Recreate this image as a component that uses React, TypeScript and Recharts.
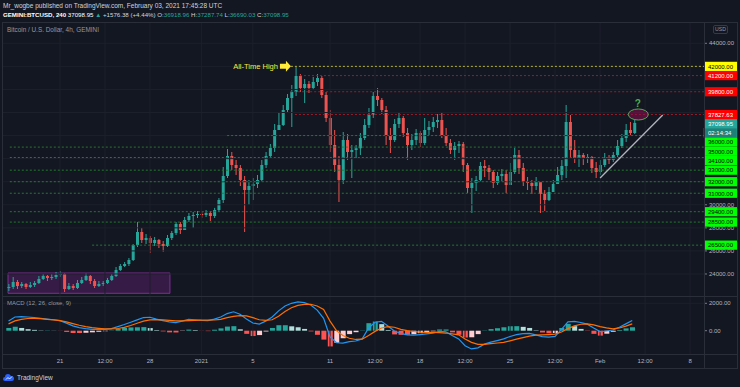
import React from 'react';
import { ComposedChart, Bar, Line, XAxis, YAxis, ReferenceLine, ReferenceArea, ReferenceDot, Cell } from 'recharts';

// ---------------- data ----------------
// candles: 8h steps, day offsets relative to 21 Dec 2020 00:00 UTC
const candleStartDay = -4;
const candleStepDay = 1 / 3;
const firstOpen = 22784;
const candleClose = [
  22871, 23305, 22958, 23131, 22871, 23045, 23218, 23565, 23825, 23653, 23740, 23912, 23998, 22697, 22958, 22784,
  23218, 23478, 23825, 23391, 22958, 23131, 23218, 23478, 23825, 24345, 24692, 24865, 25212, 26513, 27640, 26946,
  27119, 26686, 26946, 26599, 26426, 27119, 27553, 28333, 27813, 28680, 29027, 29114, 29200, 29114, 29287, 29027,
  29547, 30414, 32495, 34229, 33449, 33188, 32148, 31281, 31628, 31801, 32148, 33449, 34229, 34922, 36483, 36916,
  38217, 39257, 39778, 41165, 40124, 40471, 40124, 40645, 40991, 39518, 37523, 35183, 33449, 32148, 35616, 34576,
  34749, 34900, 35789, 36916, 37783, 39431, 39084, 38217, 36050, 35616, 37003, 37523, 36223, 35183, 35616, 36223,
  35356, 36483, 36743, 37177, 37350, 36050, 35356, 34749, 35096, 35269, 33449, 31454, 31888, 32148, 33362, 33188,
  32842, 31888, 32495, 32668, 31715, 32842, 34316, 33188, 31975, 31888, 31628, 31975, 30934, 30414, 31108, 31801,
  32582, 33362, 37177, 34749, 34055, 34316, 34055, 34142, 33188, 32842, 33449, 34055, 33882, 34316, 35096, 35789,
  36483, 36223, 37098.95,
];
const candleHigh = [
  23131, 23740, 23478, 23305, 23218, 23305, 23391, 23825, 23998, 23912, 23998, 24172, 24258, 24085, 23218, 23131,
  23478, 23740, 24085, 23912, 23565, 23391, 23391, 23653, 23998, 24605, 24865, 25039, 25385, 26599, 28507, 27986,
  27466, 27293, 27206, 27033, 26859, 27380, 27726, 28507, 28507, 28940, 29287, 29374, 29460, 29374, 29547, 29460,
  29728, 30587, 33275, 34836, 34576, 33882, 33449, 32495, 32148, 32321, 32582, 33882, 34576, 35269, 37003, 37957,
  38651, 39604, 40384, 41945, 41338, 40905, 40731, 41078, 41338, 41165, 39778, 38217, 36483, 34229, 36310, 36136,
  35183, 35183, 36223, 37437, 38390, 39778, 40124, 39257, 38564, 36656, 37437, 38044, 37697, 36656, 36136, 36570,
  36396, 37523, 37263, 37610, 37870, 37957, 36656, 35703, 35443, 35529, 35443, 33622, 32321, 32495, 33709, 33882,
  33449, 33015, 32842, 33102, 33015, 33622, 34922, 34749, 33622, 32408, 32148, 32408, 31975, 31281, 31541, 32148,
  33275, 33882, 38651, 37783, 35616, 34749, 34489, 34402, 34229, 33709, 33882, 34489, 34316, 34576, 35616, 36136,
  37003, 37177, 37437,
];
const candleLow = [
  22524, 22697, 22697, 22784, 22697, 22784, 22871, 23131, 23478, 23391, 23478, 23565, 23740, 22438, 22611, 22611,
  22697, 23131, 23391, 23131, 22784, 22871, 22958, 23131, 23391, 23740, 24258, 24605, 24692, 25125, 26339, 26686,
  26599, 25819, 26426, 26252, 25906, 26339, 26946, 27380, 27466, 27813, 28507, 27986, 28853, 28853, 28940, 28593,
  28853, 29374, 30154, 32321, 33015, 32582, 31628, 27640, 29981, 30414, 31454, 31975, 33188, 34055, 34576, 36483,
  36830, 37957, 36743, 39431, 39778, 38824, 39691, 39951, 40298, 39257, 37177, 34576, 32842, 30241, 31801, 33882,
  32321, 34055, 34316, 35616, 36656, 37523, 38564, 37870, 35183, 34489, 35443, 36656, 35876, 33882, 34749, 35183,
  35009, 35183, 36050, 36310, 36656, 35789, 35096, 34402, 33882, 34489, 32842, 31021, 29287, 31194, 31975, 32408,
  32148, 31454, 31715, 31975, 31021, 32148, 32668, 32668, 31628, 31281, 30934, 31281, 29287, 29460, 30327, 31108,
  31888, 32148, 32321, 34142, 33622, 33275, 33449, 33622, 32755, 32321, 32582, 33275, 33535, 33709, 34142, 34922,
  35443, 35963, 36136,
];

// MACD (12, 26, close, 9): 12h samples
const macdStartDay = -4;
const macdStepDay = 0.5;
const macdValues = [
  700, 1000, 1030, 1000, 960, 900, 850, 800, 730, 550, 350, 230, 150, 100, 90, 90,
  150, 300, 450, 620, 790, 960, 980, 850, 740, 640, 590, 700, 820, 800, 760, 740,
  850, 1000, 1250, 1380, 1200, 850, 560, 480, 700, 1000, 1450, 1800, 2000, 2100, 2050, 1880,
  1500, 900, -450, -880, -900, -800, -750, -600, 200, 620, 680, 350, -20, -200, -300, -320,
  -280, -230, -180, -50, -80, -350, -600, -1100, -1330, -1250, -980, -830, -720, -600, -420, -290,
  -220, -200, -300, -430, -470, -420, 100, 650, 680, 600, 480, 200, -60, -20, 50, 250,
  500, 750,
];
const signalValues = [
  500, 720, 830, 890, 900, 880, 830, 790, 740, 640, 520, 400, 300, 220, 170, 130,
  130, 160, 240, 380, 540, 700, 790, 810, 790, 760, 720, 720, 740, 760, 770, 770,
  780, 830, 950, 1050, 1100, 1080, 950, 800, 760, 800, 1050, 1400, 1680, 1850, 1920, 1930,
  1800, 1550, 700, 0, -350, -550, -640, -620, -350, -50, 200, 300, 250, 100, 0, -60,
  -100, -120, -130, -140, -170, -230, -300, -600, -850, -1000, -1000, -950, -900, -850, -740, -620,
  -500, -400, -330, -300, -280, -250, -100, 150, 350, 470, 500, 430, 300, 200, 130, 200,
  330, 500,
];

const timeTickDays = [0, 3.5, 7, 11, 15, 21, 24.5, 28, 31.5, 35, 38.5, 42, 45.5, 49];
const timeTickLabels = ['21', '12:00', '28', '2021', '5', '11', '12:00', '18', '12:00', '25', '12:00', 'Feb', '12:00', '8'];
const priceGridTicks = [24000, 26000, 28000, 30000, 32000, 34000, 36000, 38000, 40000, 42000, 44000];
const macdTicks = [0, 2000];

const levelPrices = [42000, 41200, 39800, 37827.63, 36000, 35000, 34100, 33000, 32000, 31000, 29400, 28500, 26500];
const levelKinds = ['ath', 'res', 'res', 'res', 'sup', 'sup', 'sup', 'sup', 'sup', 'sup', 'sup', 'sup', 'sup'];
const levelStartDays = [17.96, 18.66, 17.9, 18.27, 13.0, -3.9, -3.9, -3.9, -3.9, -3.9, -3.9, -3.9, 2.5];

const lastPrice = 37098.95;
const countdownText = '02:14:34';

const rangeBox = { d1: -4.04, d2: 8.55, p1: 22325, p2: 24085 };
const trendFrom = { d: 42.0, p: 32320 };
const trendTo = { d: 46.87, p: 37780 };
const targetMark = { d: 44.97, p: 37827.63 };
const athMark = { d: 17.96, p: 42000 };

const headerLine1 = 'Mr_wogbe published on TradingView.com, February 03, 2021 17:45:28 UTC';
const symbolText = 'GEMINI:BTCUSD, 240';
const chartTitle = 'Bitcoin / U.S. Dollar, 4h, GEMINI';
const macdTitle = 'MACD (12, 26, close, 9)';

// ---------------- layout ----------------
const W = 740;
const PLOT_LEFT = 3;
const AXIS_W = 36;
const MAIN_TOP = 22;
const MAIN_BOTTOM = 296;
const MACD_H = 72;
const X_DOMAIN: [number, number] = [-4.43, 50.08];
const P_MIN = 22091;
const P_MAX = 45847;
const M_DOMAIN: [number, number] = [-1701, 2533];
const LABEL_STEP = 9.2;
const FONT = '"Liberation Sans", Arial, sans-serif';
const BG = '#131722';
const GRID = '#1c202b';
const UP = '#26a69a';
const DOWN = '#ef5350';

const levelColor: Record<string, string> = { ath: '#b5b032', res: '#9b1c28', sup: '#237a2c' };
const boxStyle: Record<string, { bg: string; fg: string }> = {
  ath: { bg: '#ffff00', fg: '#000000' },
  res: { bg: '#ff0000', fg: '#ffffff' },
  last: { bg: '#26a69a', fg: '#ffffff' },
  timer: { bg: '#1e8077', fg: '#ffffff' },
  sup: { bg: '#00ff00', fg: '#000000' },
};

// ---------------- derived ----------------
const candles = candleClose.map((c, i) => {
  const o = i === 0 ? firstOpen : candleClose[i - 1];
  const h = Math.max(candleHigh[i], o, c);
  const l = Math.min(candleLow[i], o, c);
  return { t: candleStartDay + i * candleStepDay, o, h, l, c, range: [l, h] };
});

const macdData = macdValues.map((m, i) => ({
  t: macdStartDay + i * macdStepDay,
  macd: m,
  signal: signalValues[i],
  hist: m - signalValues[i],
}));
const histColor = (i: number) => {
  const h = macdData[i].hist;
  const prev = i > 0 ? macdData[i - 1].hist : h;
  if (h >= 0) return h >= prev ? '#26a69a' : '#b2dfdb';
  return h <= prev ? '#ff5252' : '#ffcdd2';
};

const natY = (p: number) => MAIN_TOP + ((P_MAX - p) / (P_MAX - P_MIN)) * (MAIN_BOTTOM - MAIN_TOP);
type AxisLabel = { p: number; kind: string; text: string; y: number };
const axisLabels: AxisLabel[] = levelPrices.map((p, i) => ({ p, kind: levelKinds[i], text: p.toFixed(2), y: 0 }));
axisLabels.push({ p: lastPrice, kind: 'last', text: lastPrice.toFixed(2), y: 0 });
axisLabels.sort((a, b) => b.p - a.p);
{
  const idx = axisLabels.findIndex((a) => a.kind === 'last');
  axisLabels.splice(idx + 1, 0, { p: lastPrice, kind: 'timer', text: countdownText, y: 0 });
  let prev = -Infinity;
  axisLabels.forEach((a) => {
    a.y = Math.max(natY(a.p), prev + LABEL_STEP);
    prev = a.y;
  });
}
const labelPriceSet = new Set(axisLabels.map((a) => a.p));
// plain scale ticks hidden when a coloured label box covers them
const visibleGridTicks = priceGridTicks.filter(
  (t) => !labelPriceSet.has(t) && axisLabels.every((a) => Math.abs(a.y - natY(t)) > 5)
);
const priceTicks = [...visibleGridTicks, ...levelPrices, lastPrice];

// ---------------- shapes ----------------
const CandleShape = (props: any) => {
  const { x, y, width, height } = props;
  const d = props.payload ?? props;
  if (d == null || d.h == null) return null;
  const top = Math.min(y, y + height);
  const bot = Math.max(y, y + height);
  const span = d.h - d.l || 1;
  const ppu = (bot - top) / span;
  const yo = top + (d.h - d.o) * ppu;
  const yc = top + (d.h - d.c) * ppu;
  const col = d.c >= d.o ? UP : DOWN;
  const cx = x + width / 2;
  const bt = Math.min(yo, yc);
  const bh = Math.max(1, Math.abs(yc - yo));
  return (
    <g>
      <line x1={cx} x2={cx} y1={top} y2={bot} stroke={col} strokeWidth={1} />
      <rect x={cx - 1.5} y={bt} width={3} height={bh} fill={col} />
    </g>
  );
};

const PriceTick = (props: any) => {
  const { x, y, payload } = props;
  const v = payload.value;
  const entries = axisLabels.filter((a) => a.p === v);
  const axisX = x - 5;
  if (entries.length === 0) {
    return (
      <g>
        <line x1={axisX} x2={axisX + 3} y1={y} y2={y} stroke="#787b86" />
        <text x={axisX + 5} y={y} dominantBaseline="central" fill="#b2b5be" fontSize={6} fontFamily={FONT}>
          {v.toFixed(2)}
        </text>
      </g>
    );
  }
  return (
    <g>
      {entries.map((e, i) => {
        const yy = y + (e.y - natY(v));
        const st = boxStyle[e.kind];
        return (
          <g key={i}>
            <rect x={axisX} y={yy - 4.6} width={33} height={9.2} fill={st.bg} stroke={e.kind === 'timer' ? '#26a69a' : 'none'} strokeWidth={0.6} />
            <text x={axisX + 4} y={yy + 0.3} dominantBaseline="central" fill={st.fg} fontSize={6} fontFamily={FONT}>
              {e.text}
            </text>
          </g>
        );
      })}
    </g>
  );
};

const MacdTick = (props: any) => {
  const { x, y, payload } = props;
  const axisX = x - 5;
  return (
    <g>
      <line x1={axisX} x2={axisX + 3} y1={y} y2={y} stroke="#787b86" />
      <text x={axisX + 5} y={y} dominantBaseline="central" fill="#b2b5be" fontSize={6} fontFamily={FONT}>
        {Number(payload.value).toFixed(2)}
      </text>
    </g>
  );
};

const TimeTick = (props: any) => {
  const { x, y, payload } = props;
  const i = timeTickDays.indexOf(payload.value);
  return (
    <text x={x} y={y + 7} textAnchor="middle" dominantBaseline="central" fill="#b2b5be" fontSize={6} fontFamily={FONT}>
      {i >= 0 ? timeTickLabels[i] : ''}
    </text>
  );
};

const AthShape = (p: any) => {
  const { cx, cy } = p;
  const pts = [
    [cx - 11, cy - 2.5], [cx - 5, cy - 2.5], [cx - 5, cy - 5.5], [cx, cy],
    [cx - 5, cy + 5.5], [cx - 5, cy + 2.5], [cx - 11, cy + 2.5],
  ].map((q) => q.join(',')).join(' ');
  return (
    <g>
      <polygon points={pts} fill="#ffeb3b" />
      <text x={cx - 13} y={cy} textAnchor="end" dominantBaseline="central" fill="#ffeb3b" fontSize={7.5} fontFamily={FONT}>
        All-Time High
      </text>
    </g>
  );
};

const TargetShape = (p: any) => (
  <g>
    <ellipse cx={p.cx} cy={p.cy} rx={10} ry={5.5} fill="#880e4f" fillOpacity={0.55} stroke="#4caf50" strokeWidth={1} />
    <text x={p.cx - 0.5} y={p.cy - 11} textAnchor="middle" dominantBaseline="central" fill="#4caf50" fontSize={10} fontWeight="bold" fontFamily={FONT}>
      ?
    </text>
  </g>
);

// ---------------- component ----------------
export default function App() {
  const hLine = (top: number, left = 2, width = 736, color = '#2a2e39') => (
    <div style={{ position: 'absolute', left, top, width, height: 1, background: color }} />
  );
  const vLine = (left: number, top = 22, height = 346, color = '#2a2e39') => (
    <div style={{ position: 'absolute', left, top, width: 1, height, background: color }} />
  );
  return (
    <div style={{ position: 'absolute', left: 0, top: 0, width: W, height: 387, background: BG, overflow: 'hidden', fontFamily: FONT }}>
      <div style={{ position: 'absolute', left: 3, top: 2, fontSize: 6.5, lineHeight: '8px', color: '#d1d4dc', whiteSpace: 'nowrap' }}>
        {headerLine1}
      </div>
      <div style={{ position: 'absolute', left: 3, top: 10.7, fontSize: 6.15, lineHeight: '8px', color: '#d1d4dc', whiteSpace: 'nowrap' }}>
        <span style={{ fontWeight: 'bold', color: '#ffffff' }}>{symbolText}</span>
        <span style={{ color: '#ffffff' }}> {lastPrice.toFixed(2)} </span>
        <span style={{ color: UP }}>▲</span>
        <span> +1576.38 (+4.44%) O:</span>
        <span style={{ color: UP }}>36918.96</span>
        <span> H:</span>
        <span style={{ color: UP }}>37287.74</span>
        <span> L:</span>
        <span style={{ color: UP }}>36690.03</span>
        <span> C:</span>
        <span style={{ color: UP }}>{lastPrice.toFixed(2)}</span>
      </div>

      <div style={{ position: 'absolute', left: 0, top: 0 }}>
        <ComposedChart width={W} height={MAIN_BOTTOM} data={candles} margin={{ top: MAIN_TOP, right: 0, bottom: 0, left: PLOT_LEFT }}>
          <XAxis type="number" dataKey="t" domain={X_DOMAIN} hide allowDataOverflow ticks={timeTickDays} />
          <YAxis
            orientation="right"
            type="number"
            domain={[P_MIN, P_MAX]}
            width={AXIS_W}
            ticks={priceTicks}
            interval={0}
            tick={PriceTick}
            axisLine={false}
            tickLine={false}
            tickSize={3}
            tickMargin={2}
            allowDataOverflow
          />
          {timeTickDays.map((d) => (
            <ReferenceLine key={'vx' + d} x={d} stroke={GRID} strokeWidth={1} />
          ))}
          {priceGridTicks.map((p) => (
            <ReferenceLine key={'hy' + p} y={p} stroke={GRID} strokeWidth={1} />
          ))}
          <ReferenceArea
            x1={rangeBox.d1}
            x2={rangeBox.d2}
            y1={rangeBox.p1}
            y2={rangeBox.p2}
            fill="#9c27b0"
            fillOpacity={0.25}
            stroke="#8e2fa3"
            strokeOpacity={0.9}
          />
          {levelPrices.map((p, i) => (
            <ReferenceLine
              key={'lv' + i}
              segment={[{ x: levelStartDays[i], y: p }, { x: X_DOMAIN[1], y: p }]}
              stroke={levelColor[levelKinds[i]]}
              strokeDasharray="2 2"
              strokeWidth={1}
            />
          ))}
          <Bar dataKey="range" shape={CandleShape} barSize={3} isAnimationActive={false} />
          <ReferenceLine
            segment={[{ x: trendFrom.d, y: trendFrom.p }, { x: trendTo.d, y: trendTo.p }]}
            stroke="#b2b5be"
            strokeWidth={1.3}
          />
          <ReferenceDot x={targetMark.d} y={targetMark.p} r={10} shape={TargetShape} />
          <ReferenceDot x={athMark.d} y={athMark.p} r={6} shape={AthShape} />
        </ComposedChart>
      </div>

      <div style={{ position: 'absolute', left: 0, top: MAIN_BOTTOM }}>
        <ComposedChart width={W} height={MACD_H} data={macdData} margin={{ top: 0, right: 0, bottom: 0, left: PLOT_LEFT }}>
          <XAxis
            type="number"
            dataKey="t"
            domain={X_DOMAIN}
            ticks={timeTickDays}
            interval={0}
            height={14}
            tick={TimeTick}
            axisLine={false}
            tickLine={false}
            tickSize={0}
            tickMargin={0}
            allowDataOverflow
          />
          <YAxis
            orientation="right"
            type="number"
            domain={M_DOMAIN}
            width={AXIS_W}
            ticks={macdTicks}
            interval={0}
            tick={MacdTick}
            axisLine={false}
            tickLine={false}
            tickSize={3}
            tickMargin={2}
            allowDataOverflow
          />
          {timeTickDays.map((d) => (
            <ReferenceLine key={'mvx' + d} x={d} stroke={GRID} strokeWidth={1} />
          ))}
          <ReferenceLine y={2000} stroke={GRID} strokeWidth={1} />
          <Bar dataKey="hist" barSize={5} isAnimationActive={false}>
            {macdData.map((_, i) => (
              <Cell key={i} fill={histColor(i)} />
            ))}
          </Bar>
          <Line dataKey="macd" stroke="#2196f3" strokeWidth={1.2} dot={false} isAnimationActive={false} />
          <Line dataKey="signal" stroke="#ff6d00" strokeWidth={1.2} dot={false} isAnimationActive={false} />
        </ComposedChart>
      </div>

      {hLine(22)}
      {hLine(296)}
      {hLine(354)}
      {hLine(368)}
      {vLine(2)}
      {vLine(704)}
      {vLine(737)}

      <div style={{ position: 'absolute', left: 7, top: 26, fontSize: 6.4, lineHeight: '7px', color: '#9598a1', whiteSpace: 'nowrap' }}>
        {chartTitle}
      </div>
      <div style={{ position: 'absolute', left: 7, top: 299.5, fontSize: 6, lineHeight: '7px', color: '#9598a1', whiteSpace: 'nowrap' }}>
        {macdTitle}
      </div>
      <div
        style={{
          position: 'absolute', left: 713, top: 25, width: 13, height: 7, border: '1px solid #363a45', borderRadius: 2,
          fontSize: 5.2, lineHeight: '7px', color: '#9598a1', textAlign: 'center',
        }}
      >
        USD
      </div>
      <div style={{ position: 'absolute', left: 3, top: 373, display: 'flex', alignItems: 'center', gap: 2 }}>
        <svg width={12} height={9} viewBox="0 0 12 9">
          <path d="M2 8 Q0 8 0 6 Q0 4 2 4 Q2 1 5 1 Q7 1 8 3 Q11 3 11 5.5 Q11 8 8.5 8 Z" fill="#2962ff" />
          <path d="M3 6.5 L5 4.5 L6.5 6 L9 3.5" stroke="#ffffff" strokeWidth={0.9} fill="none" />
        </svg>
        <span style={{ fontSize: 6.5, color: '#d1d4dc', lineHeight: '9px' }}>TradingView</span>
      </div>
    </div>
  );
}
